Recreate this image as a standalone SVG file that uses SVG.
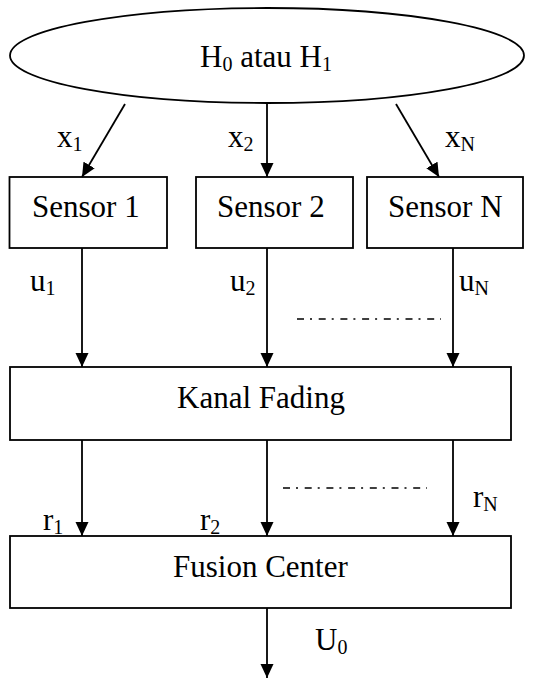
<svg xmlns="http://www.w3.org/2000/svg" width="536" height="682" viewBox="0 0 536 682">
<style>
.box{fill:#fff;stroke:#000;stroke-width:1.8}
.t{font-family:'Liberation Serif','Times New Roman',Times,serif;font-size:31px;fill:#000}
.s{font-size:20px}
.c{stroke:#000;stroke-width:1.8;fill:none}
.dd{stroke:#000;stroke-width:1.6;stroke-dasharray:7 6 2 6.7;fill:none}
</style>
<defs>
<marker id="ah" markerUnits="userSpaceOnUse" markerWidth="15" markerHeight="14" refX="14" refY="7" orient="auto">
<path d="M0,0.5 L14,7 L0,13.5 z" fill="#000"/>
</marker>
</defs>
<rect width="536" height="682" fill="#fff"/>
<g id="hypothesis">
<ellipse class="box" cx="267" cy="55.5" rx="257" ry="47.5"/>
<text class="t" x="200" y="67">H<tspan class="s" dy="4">0</tspan><tspan dy="-4"> atau H</tspan><tspan class="s" dy="4">1</tspan></text>
</g>
<g id="sensor1">
<rect class="box" x="9.5" y="177" width="157.5" height="71"/>
<text class="t" x="32" y="217">Sensor 1</text>
</g>
<g id="sensor2">
<rect class="box" x="196" y="177" width="157" height="71"/>
<text class="t" x="217" y="217">Sensor 2</text>
</g>
<g id="sensorN">
<rect class="box" x="367" y="177" width="156" height="71"/>
<text class="t" x="388" y="217">Sensor N</text>
</g>
<g id="kanal">
<rect class="box" x="10" y="367" width="501" height="73"/>
<text class="t" x="177" y="408">Kanal Fading</text>
</g>
<g id="fusion">
<rect class="box" x="10" y="536" width="501" height="72"/>
<text class="t" x="173" y="577">Fusion Center</text>
</g>
<g id="connectors">
<line class="c" x1="125" y1="104" x2="82" y2="177" marker-end="url(#ah)"/>
<line class="c" x1="267" y1="104" x2="267" y2="177" marker-end="url(#ah)"/>
<line class="c" x1="396" y1="104" x2="439" y2="177" marker-end="url(#ah)"/>
<line class="c" x1="82" y1="248" x2="82" y2="367" marker-end="url(#ah)"/>
<line class="c" x1="267" y1="248" x2="267" y2="367" marker-end="url(#ah)"/>
<line class="c" x1="453" y1="248" x2="453" y2="367" marker-end="url(#ah)"/>
<line class="c" x1="82" y1="440" x2="82" y2="536" marker-end="url(#ah)"/>
<line class="c" x1="267" y1="440" x2="267" y2="536" marker-end="url(#ah)"/>
<line class="c" x1="453" y1="440" x2="453" y2="536" marker-end="url(#ah)"/>
<line class="c" x1="267" y1="608" x2="267" y2="678" marker-end="url(#ah)"/>
<line class="dd" x1="297" y1="319" x2="441" y2="319"/>
<line class="dd" x1="283" y1="488" x2="427" y2="488"/>
<text class="t" x="57" y="147">x<tspan class="s" dy="4">1</tspan></text>
<text class="t" x="228" y="147">x<tspan class="s" dy="4">2</tspan></text>
<text class="t" x="445" y="147">x<tspan class="s" dy="4">N</tspan></text>
<text class="t" x="30" y="291">u<tspan class="s" dy="4">1</tspan></text>
<text class="t" x="230" y="291">u<tspan class="s" dy="4">2</tspan></text>
<text class="t" x="459" y="291">u<tspan class="s" dy="4">N</tspan></text>
<text class="t" x="43" y="530">r<tspan class="s" dy="4">1</tspan></text>
<text class="t" x="200" y="530">r<tspan class="s" dy="4">2</tspan></text>
<text class="t" x="473" y="507">r<tspan class="s" dy="4">N</tspan></text>
<text class="t" x="315" y="650">U<tspan class="s" dy="4">0</tspan></text>
</g>
</svg>
